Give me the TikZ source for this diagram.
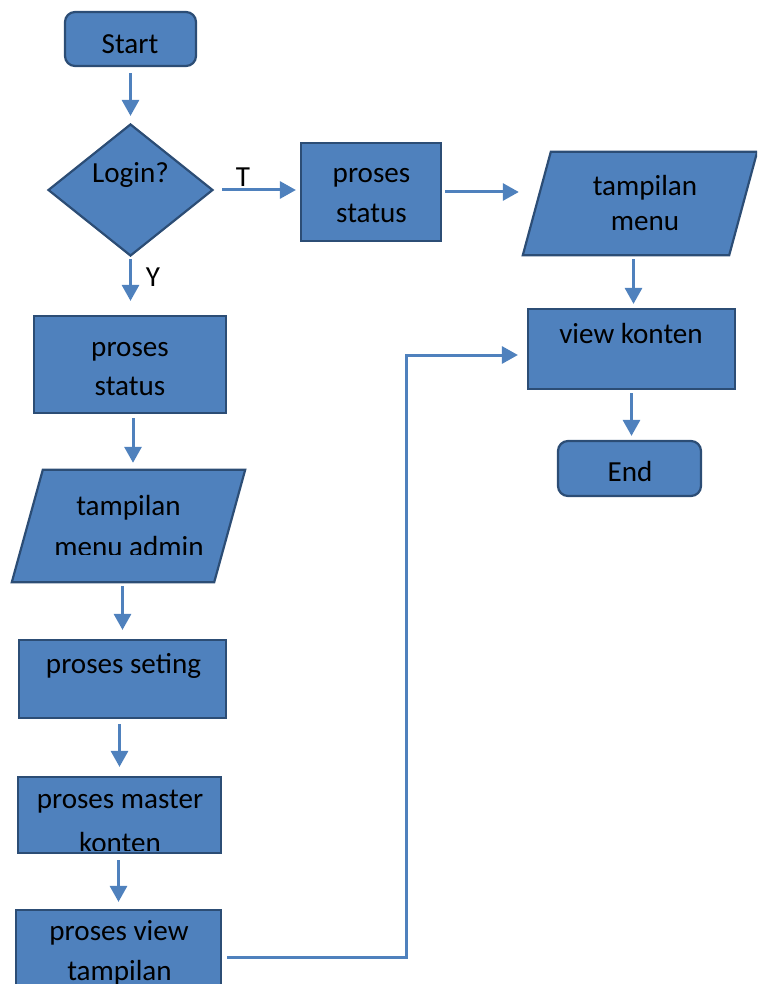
\documentclass[tikz,border=0pt]{standalone}
\usepackage{fontspec}
\setmainfont{Carlito}
\usetikzlibrary{shapes.geometric,arrows.meta,positioning,calc}

\definecolor{boxfill}{HTML}{4F81BD}
\definecolor{boxline}{HTML}{2C4D75}

\tikzset{
    box/.style={draw=boxline, fill=boxfill, line width=2.2pt, inner sep=0pt},
    procbox/.style={box, rectangle},
    termbox/.style={box, rectangle, rounded corners=10pt},
    decbox/.style={box, diamond},
    iobox/.style={rectangle, inner sep=0pt},
    txt/.style={font=\fontsize{29.1}{35}\selectfont, anchor=base, inner sep=0pt},
    arr/.style={draw=boxfill, line width=3pt, -{Triangle[length=16pt,width=17pt]}}
}

\begin{document}
\begin{tikzpicture}[x=1pt,y=-1pt]
    \useasboundingbox (0,0) rectangle (757,984);
    \clip (0,0) rectangle (757,984);

    % Left column
    \node[termbox, minimum width=131pt, minimum height=54pt] (start) at (130.5,39) {};
    \node[txt] (tStart) at (130,53.5) {Start};

    \node[decbox, minimum width=165pt, minimum height=132pt] (login) at (130.5,190) {};
    \node[txt] (tLogin) at (130.5,183) {Login?};

    \node[procbox, minimum width=192pt, minimum height=97pt] (stat1) at (130,364.5) {};
    \node[txt] (tStat1a) at (130,356.5) {proses};
    \node[txt] (tStat1b) at (130,395) {status};

    \node[iobox, minimum width=233pt, minimum height=112pt] (admin) at (128.5,526) {};
    \draw[box] ([xshift=31pt]admin.north west) -- (admin.north east)
        -- ([xshift=-31pt]admin.south east) -- (admin.south west) -- cycle;
    \node[txt] (tAdminA) at (128.5,515) {tampilan};
    \begin{scope}
        \clip (20,520) rectangle (240,554);
        \node[txt] (tAdminB) at (129,556) {menu admin};
    \end{scope}

    \node[procbox, minimum width=207pt, minimum height=78pt] (seting) at (122.5,679) {};
    \node[txt] (tSeting) at (123.5,673) {proses seting};

    \node[procbox, minimum width=203pt, minimum height=76pt] (master) at (119.5,815) {};
    \node[txt] (tMasterA) at (120,808) {proses master};
    \begin{scope}
        \clip (20,815) rectangle (220,850.5);
        \node[txt] (tMasterB) at (120,852) {konten};
    \end{scope}

    \node[procbox, minimum width=205pt, minimum height=94pt] (viewt) at (118.5,957) {};
    \node[txt] (tViewtA) at (119,940) {proses view};
    \node[txt] (tViewtB) at (119.5,980) {tampilan};

    % Right column
    \node[procbox, minimum width=140pt, minimum height=98pt] (stat2) at (371,192) {};
    \node[txt] (tStat2a) at (371.5,183) {proses};
    \node[txt] (tStat2b) at (371.5,223) {status};

    \node[iobox, minimum width=234pt, minimum height=103pt] (menu) at (640,203.5) {};
    \draw[box] ([xshift=28pt]menu.north west) -- (menu.north east)
        -- ([xshift=-28pt]menu.south east) -- (menu.south west) -- cycle;
    \node[txt] (tMenuA) at (645,195.5) {tampilan};
    \node[txt] (tMenuB) at (645,231) {menu};

    \node[procbox, minimum width=207pt, minimum height=80pt] (viewk) at (631.5,349) {};
    \node[txt] (tViewk) at (631,343) {view konten};

    \node[termbox, minimum width=143pt, minimum height=55pt] (endn) at (629.5,468.5) {};
    \node[txt] (tEnd) at (630,481.5) {End};

    % Connectors
    \draw[arr, shorten <=6pt, shorten >=7pt] (start.south) -- (login.north);
    \draw[arr, shorten <=8pt, shorten >=4pt] (login.east) -- (login.east -| stat2.west);
    \node[txt] (lblT) at (243,186.5) {T};
    \draw[arr, shorten <=2pt, shorten >=14pt] (login.south) -- (login.south |- stat1.north);
    \node[txt] (lblY) at (153,286) {Y};
    \draw[arr, shorten <=4pt, shorten >=7pt] ([xshift=3pt]stat1.south) -- ([xshift=3pt]stat1.south |- admin.north);
    \draw[arr, shorten <=4pt, shorten >=9pt] (admin.south -| seting.north) -- (seting.north);
    \draw[arr, shorten <=5pt, shorten >=9pt] (seting.south -| master.north) -- (master.north);
    \draw[arr, shorten <=6pt, shorten >=7pt] (master.south -| viewt.north) -- (viewt.north);

    \draw[arr, shorten <=3pt, shorten >=4pt] (stat2.east) -- (stat2.east -| menu.south west);
    \draw[arr, shorten <=4pt, shorten >=4pt] ([xshift=2pt]viewk.north |- menu.south) -- ([xshift=2pt]viewk.north);
    \draw[arr, shorten <=3pt, shorten >=4pt] (viewk.south) -- (viewk.south |- endn.north);

    \coordinate (turn) at (406,355);
    \draw[arr, shorten <=5pt, shorten >=9pt] (viewt.east) -| (turn) |- ([yshift=-6pt]viewk.west);
\end{tikzpicture}
\end{document}
